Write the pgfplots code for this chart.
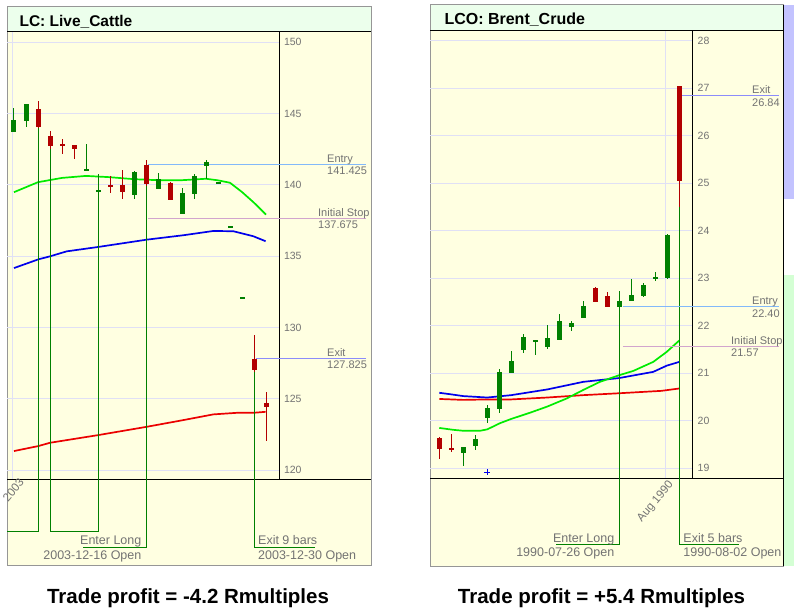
\documentclass[border=0pt]{standalone}
\usepackage{fontspec}
\setmainfont{Liberation Sans}
\usepackage{pgfplots}
\usepackage{pgfplotstable}
\pgfplotsset{compat=1.18}

\definecolor{bgyellow}{RGB}{255,255,225}
\definecolor{titlegreen}{RGB}{236,255,236}
\definecolor{gridcol}{RGB}{224,224,245}
\definecolor{upgreen}{RGB}{0,128,0}
\definecolor{downred}{RGB}{178,0,0}
\definecolor{malime}{RGB}{0,235,0}
\definecolor{mablue}{RGB}{0,0,235}
\definecolor{mared}{RGB}{235,0,0}
\definecolor{entryc}{RGB}{130,185,250}
\definecolor{stopc}{RGB}{210,165,205}
\definecolor{exitc}{RGB}{140,140,250}
\definecolor{txtgray}{RGB}{115,115,115}
\definecolor{framegray}{RGB}{150,150,150}
\definecolor{sidelav}{RGB}{195,195,255}
\definecolor{sidegreen}{RGB}{212,255,212}

% live cattle, bars 1..22
\pgfplotstableread{
i o h l c
1 143.73 145.37 143.73 144.54
2 144.48 145.67 144.06 145.67
7 141.05 142.87 141.00 141.05
8 139.59 140.76 139.50 139.59
11 139.27 140.97 139.04 140.93
13 139.71 140.85 139.71 140.44
15 137.94 139.81 137.94 139.43
16 139.34 140.79 138.99 140.60
17 141.33 141.77 140.44 141.61
18 140.13 140.13 140.13 140.13
19 137.08 137.08 137.08 137.08
20 132.10 132.10 132.10 132.10
}\lcup
\pgfplotstableread{
i o h l c
3 145.35 145.88 144.00 144.06
4 143.43 143.76 142.50 142.73
5 142.90 143.20 142.20 142.73
6 142.80 142.80 141.80 142.52
9 139.95 140.62 139.43 139.90
10 139.97 141.02 138.99 139.50
12 141.425 141.75 139.90 140.07
14 140.13 140.18 138.92 138.92
21 127.825 129.45 126.90 127.00
22 124.73 125.48 122.04 124.43
}\lcdown

% brent crude, bars 1..21
\pgfplotstableread{
i o h l c
3 19.33 19.44 19.05 19.44
4 19.48 19.70 19.38 19.62
5 20.05 20.33 19.96 20.26
6 20.25 21.08 20.16 21.03
7 21.01 21.47 21.01 21.26
8 21.49 21.83 21.43 21.76
9 21.68 21.69 21.38 21.68
10 21.56 22.02 21.51 21.74
11 21.70 22.25 21.70 22.10
12 21.98 22.09 21.88 22.05
13 22.16 22.52 22.16 22.42
16 22.40 22.74 22.23 22.52
17 22.53 22.98 22.53 22.65
18 22.63 22.89 22.61 22.86
19 23.01 23.13 22.95 23.01
20 23.00 23.93 22.98 23.91
}\lcoup
\pgfplotstableread{
i o h l c
1 19.63 19.65 19.20 19.41
2 19.42 19.72 19.34 19.40
14 22.80 22.82 22.49 22.51
15 22.63 22.72 22.40 22.40
21 27.05 27.05 24.51 25.05
}\lcodown

% wick + body from one table: table, colour, smallest half body
\newcommand{\candles}[3]{%
  \addplot[draw=none, mark=none, forget plot,
    error bars/.cd, y dir=both, y explicit, error mark=none,
    error bar style={draw=#2, line width=1pt}]
    table[x=i, y expr={(\thisrow{h}+\thisrow{l})/2},
      y error expr={(\thisrow{h}-\thisrow{l})/2}] {#1};
  \addplot[draw=none, mark=none, forget plot,
    error bars/.cd, y dir=both, y explicit, error mark=none,
    error bar style={draw=#2, line width=5pt}]
    table[x=i, y expr={(\thisrow{o}+\thisrow{c})/2},
      y error expr={max(abs(\thisrow{c}-\thisrow{o})/2,#3)}] {#1};
}

\pgfplotsset{
  panel/.style={
    scale only axis,
    axis x line*=bottom, axis y line*=right,
    axis line style={black, line width=1pt},
    major tick length=0pt,
    ymajorgrids, xmajorgrids,
    grid style={gridcol, line width=0.9pt},
    clip=false,
    /pgf/number format/assume math mode=true,
    yticklabel style={font=\fontsize{10.5}{12}\selectfont, text=txtgray, anchor=west, xshift=1.5pt},
    xticklabel style={font=\fontsize{11.5}{13}\selectfont, text=txtgray,
      xshift=8pt, yshift=-2pt, rotate=50, anchor=east},
  },
  ma/.style={line width=1.7pt, mark=none, forget plot},
  annot/.style={upgreen, line width=0.9pt, forget plot},
  lvl/.style={line width=1pt, forget plot},
}
\tikzset{
  lbl/.style={font=\fontsize{11}{13}\selectfont, text=txtgray, inner sep=0pt},
  lbl2/.style={font=\fontsize{12.5}{14}\selectfont, text=txtgray, inner sep=0pt},
}

\begin{document}
\begin{tikzpicture}
\fill[white] (0pt,0pt) rectangle (794pt,610pt);

% panel frames
\filldraw[fill=bgyellow, draw=framegray, line width=1pt] (7pt,45pt) rectangle (371pt,603pt);
\fill[titlegreen] (7.5pt,578pt) rectangle (370.5pt,602.5pt);
\draw[black, line width=1pt] (7pt,578pt) -- (371pt,578pt);
\draw[black, line width=1pt] (7pt,130pt) -- (371pt,130pt);
\node[anchor=base west, font=\bfseries\fontsize{15.5}{17}\selectfont] at (16pt,583.5pt) {LC: Live\_Cattle};

\filldraw[fill=bgyellow, draw=framegray, line width=1pt] (430pt,44pt) rectangle (783pt,605pt);
\fill[titlegreen] (430.5pt,579.3pt) rectangle (782.5pt,604.5pt);
\draw[black, line width=1pt] (430pt,579.3pt) -- (783pt,579.3pt);
\draw[black, line width=1pt] (430pt,131.7pt) -- (783pt,131.7pt);
\node[anchor=base west, font=\bfseries\fontsize{16}{18}\selectfont] at (441pt,585pt) {LCO: Brent\_Crude};
\fill[sidelav] (784pt,411pt) rectangle (794pt,605pt);
\fill[sidegreen] (784pt,44pt) rectangle (794pt,335pt);
\draw[black, line width=1pt] (783.5pt,44pt) -- (783.5pt,605pt);

% ---------------- Live Cattle ----------------
\begin{axis}[panel,
  at={(7pt,130pt)}, anchor=south west,
  width=272pt, height=448pt,
  xmin=0.4167, xmax=23.083, ymin=119.31, ymax=150.72,
  ytick={120,125,...,150},
  xtick={0.833}, xticklabels={2003},
  xticklabel style={xshift=6pt},
]
\addplot[ma, mared] coordinates {(1,121.34) (3.03,121.69) (4,121.92) (8.03,122.46) (12.06,123.04) (15.11,123.51) (17.61,123.91) (19.56,124.02) (20.94,124.02) (21.97,124.09)};
\addplot[ma, mablue] coordinates {(1,134.17) (3.03,134.78) (4,134.99) (5.39,135.34) (8.03,135.65) (12.06,136.16) (15.11,136.47) (17.61,136.77) (19.28,136.75) (20.94,136.40) (21.97,136.05)};
\addplot[ma, malime] coordinates {(1,139.49) (3,140.19) (5,140.49) (7,140.63) (9,140.54) (11,140.40) (13,140.33) (15,140.33) (17,140.43) (18,140.32) (19,140.15) (20,139.50) (21,138.75) (22,137.92)};

\addplot[annot] coordinates {(3,144.0) (3,115.73) (0.4167,115.73)};
\addplot[annot] coordinates {(4,142.5) (4,115.73) (8,115.73) (8,139.5)};
\addplot[annot] coordinates {(12,140.07) (12,114.61) (6.72,114.61)};
\addplot[annot] coordinates {(21,126.95) (21,114.61) (26.08,114.61)};

\addplot[lvl, entryc] coordinates {(12.2,141.425) (30.33,141.425)};
\addplot[lvl, stopc] coordinates {(12.2,137.675) (30.33,137.675)};
\addplot[lvl, exitc] coordinates {(21.2,127.825) (30.33,127.825)};

\candles{\lcup}{upgreen}{0.07}
\candles{\lcdown}{downred}{0.07}

\node[lbl, anchor=base west, yshift=2pt] at (axis cs:27.08,141.425) {Entry};
\node[lbl, anchor=north west, yshift=-2.5pt] at (axis cs:27.08,141.425) {141.425};
\node[lbl, anchor=base west, yshift=2pt] at (axis cs:26.33,137.675) {Initial Stop};
\node[lbl, anchor=north west, yshift=-2.5pt] at (axis cs:26.33,137.675) {137.675};
\node[lbl, anchor=base west, yshift=2pt] at (axis cs:27.08,127.825) {Exit};
\node[lbl, anchor=north west, yshift=-2.5pt] at (axis cs:27.08,127.825) {127.825};

\node[lbl2, anchor=base east] at (axis cs:11.63,114.80) {Enter Long};
\node[lbl2, anchor=base east] at (axis cs:11.63,113.77) {2003-12-16 Open};
\node[lbl2, anchor=base west] at (axis cs:21.33,114.80) {Exit 9 bars};
\node[lbl2, anchor=base west] at (axis cs:21.33,113.77) {2003-12-30 Open};
\end{axis}

% ---------------- Brent Crude ----------------
\begin{axis}[panel,
  at={(430pt,131.7pt)}, anchor=south west,
  width=262.7pt, height=447.6pt,
  xmin=0.225, xmax=22.12, ymin=18.79, ymax=28.21,
  ytick={19,20,...,28},
  xtick={19.87}, xticklabels={Aug 1990},
]
\addplot[ma, mared] coordinates {(1,20.46) (3,20.44) (5,20.45) (7,20.45) (10,20.49) (13,20.54) (16,20.58) (19.5,20.63) (21,20.68)};
\addplot[ma, mablue] coordinates {(1,20.59) (1.89,20.56) (3,20.52) (5,20.49) (7,20.54) (10,20.66) (13,20.82) (16,20.90) (18.83,21.03) (19.95,21.16) (21,21.24)};
\addplot[ma, malime] coordinates {(1,19.85) (2.17,19.81) (3,19.79) (4.39,19.79) (5,19.82) (6.06,19.95) (7,20.04) (8.56,20.17) (10,20.30) (11.62,20.47) (13,20.65) (14.39,20.82) (16,20.96) (17.17,21.05) (18.83,21.24) (19.95,21.45) (21,21.69)};

\addplot[only marks, mark=+, mark size=3pt, mablue, forget plot] coordinates {(5,18.92)};

\addplot[annot] coordinates {(16,22.23) (16,17.39) (10.73,17.39)};
\addplot[annot] coordinates {(21,24.51) (21,17.39) (26.0,17.39)};

\addplot[lvl, entryc] coordinates {(16.3,22.40) (29.31,22.40)};
\addplot[lvl, stopc] coordinates {(16.3,21.57) (29.31,21.57)};
\addplot[lvl, exitc] coordinates {(21.25,26.84) (29.31,26.84)};

\candles{\lcoup}{upgreen}{0.021}
\candles{\lcodown}{downred}{0.021}

\node[lbl, anchor=base west, yshift=2pt] at (axis cs:27.06,26.84) {Exit};
\node[lbl, anchor=north west, yshift=-2.5pt] at (axis cs:27.06,26.84) {26.84};
\node[lbl, anchor=base west, yshift=2pt] at (axis cs:27.06,22.40) {Entry};
\node[lbl, anchor=north west, yshift=-2.5pt] at (axis cs:27.06,22.40) {22.40};
\node[lbl, anchor=base west, yshift=2pt] at (axis cs:25.31,21.57) {Initial Stop};
\node[lbl, anchor=north west, yshift=-2.5pt] at (axis cs:25.31,21.57) {21.57};

\node[lbl2, anchor=base east] at (axis cs:15.6,17.43) {Enter Long};
\node[lbl2, anchor=base east] at (axis cs:15.6,17.14) {1990-07-26 Open};
\node[lbl2, anchor=base west] at (axis cs:21.33,17.43) {Exit 5 bars};
\node[lbl2, anchor=base west] at (axis cs:21.33,17.14) {1990-08-02 Open};
\end{axis}

\node[anchor=base, font=\bfseries\fontsize{20.5}{24}\selectfont] at (188pt,7pt) {Trade profit = -4.2 Rmultiples};
\node[anchor=base, font=\bfseries\fontsize{20.5}{24}\selectfont] at (601.5pt,7pt) {Trade profit = +5.4 Rmultiples};

\pgfresetboundingbox
\path[use as bounding box] (0pt,0pt) rectangle (794pt,610pt);
\end{tikzpicture}
\end{document}
